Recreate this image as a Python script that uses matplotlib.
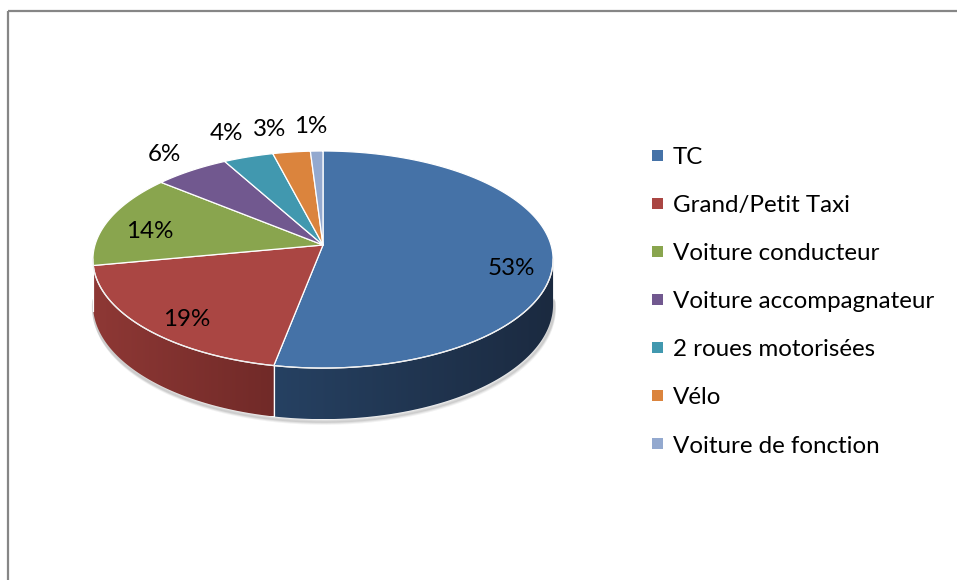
import numpy as np
import matplotlib
matplotlib.use("Agg")
import matplotlib.pyplot as plt
from matplotlib.patches import Polygon, Rectangle

# ---- data ----
categories = ["TC", "Grand/Petit Taxi", "Voiture conducteur", "Voiture accompagnateur",
              "2 roues motorisées", "Vélo", "Voiture de fonction"]
values = [53, 19, 14, 6, 4, 3, 1]
labels = ["53%", "19%", "14%", "6%", "4%", "3%", "1%"]

# ---- style ----
colors = ["#4572A7", "#AA4643", "#89A54E", "#71588F", "#4198AF", "#DB843D", "#93A9CF"]
wall_left = [(38, 65, 98), (142, 56, 53), (118, 140, 66), (95, 74, 120), (55, 128, 146), (185, 110, 50), (125, 142, 175)]
wall_right = [(27, 42, 64), (113, 42, 40), (100, 120, 56), (80, 62, 100), (45, 108, 124), (160, 95, 42), (105, 120, 150)]
label_r = [0.83, 0.83, 0.79, 1.26, 1.34, 1.33, 1.34]
label_dtheta = [8.5, -3.5, -3.2, 1.0, 0.0, -3.0, -1.0]
FONT = "Lato"
FS = 17.4

W, H = 957, 580
fig = plt.figure(figsize=(W / 100, H / 100), dpi=100)
ax = fig.add_axes([0, 0, 1, 1])
ax.set_xlim(0, W)
ax.set_ylim(H, 0)
ax.axis("off")

# chart border (top and left visible)
ax.plot([8, 8], [H + 5, 11], color="#868686", lw=1.6, solid_capstyle="butt")
ax.plot([8, W + 5], [11, 11], color="#868686", lw=1.6, solid_capstyle="butt")

# projection parameters of the 3D pie
cx, cy = 323.0, 245.0
k, a, p, h = 228.0, 106.6, 0.134, 44.2


def proj(X, Y, z=0.0):
    d = 1 + p * Y
    return cx + k * X / d, cy - a * Y / d - h * z / d


def arc(t0, t1, z=0.0, r=1.0, n=200):
    th = np.linspace(t0, t1, n)
    X, Y = r * np.sin(th), r * np.cos(th)
    return np.column_stack(proj(X, Y, z))


total = float(sum(values))
fr = np.array(values) / total
cum = np.concatenate([[0], np.cumsum(fr)])
theta0 = cum[:-1] * 2 * np.pi
theta1 = cum[1:] * 2 * np.pi

vis0 = np.deg2rad(97.5)
vis1 = np.deg2rad(262.5)

# soft shadow under the pie
for off, al in [(4, 0.10), (3, 0.15), (2, 0.2)]:
    bot = arc(vis0 - 0.05, vis1 + 0.05, z=-1)
    ax.plot(bot[:, 0] + off * 0.3, bot[:, 1] + off, color="#808080", lw=2.5, alpha=al,
            solid_capstyle="round", zorder=1)

# walls
for i in range(len(values)):
    t0 = max(theta0[i], vis0)
    t1 = min(theta1[i], vis1)
    if t1 <= t0:
        continue
    top = arc(t0, t1, 0)
    bot = arc(t0, t1, -1)
    poly = np.vstack([top, bot[::-1]])
    patch = Polygon(poly, closed=True, facecolor="none", edgecolor="none", zorder=2)
    ax.add_patch(patch)
    x0, x1 = poly[:, 0].min(), poly[:, 0].max()
    y0, y1 = poly[:, 1].min(), poly[:, 1].max()
    n = 256
    tt = np.linspace(0, 1, n)
    cl = np.array(wall_left[i]) / 255.0
    cr = np.array(wall_right[i]) / 255.0
    grad = (cl[None, :] * (1 - tt[:, None]) + cr[None, :] * tt[:, None])[None, :, :]
    im = ax.imshow(grad, extent=[x0, x1, y1, y0], aspect="auto", zorder=2, interpolation="bilinear")
    im.set_clip_path(patch)
    for t in (theta0[i], theta1[i]):
        if vis0 < t < vis1:
            xa, ya = proj(np.sin(t), np.cos(t), 0)
            xb, yb = proj(np.sin(t), np.cos(t), -1)
            ax.plot([xa, xb], [ya, yb], color="white", lw=0.8, zorder=3)

# top faces
hub = proj(0.0, 0.0, 0)
for i in range(len(values)):
    pts = np.vstack([[hub], arc(theta0[i], theta1[i], 0)])
    ax.add_patch(Polygon(pts, closed=True, facecolor=colors[i], edgecolor="white",
                         lw=0.9, joinstyle="round", zorder=4))

# front edge highlight
fe = arc(vis0, vis1, 0)
ax.plot(fe[:, 0], fe[:, 1], color="#f0f0f0", lw=0.9, zorder=5)

# data labels
cap = FS * 100 / 72 * 0.7165
for i, lab in enumerate(labels):
    mid = 0.5 * (theta0[i] + theta1[i]) + np.deg2rad(label_dtheta[i])
    r = label_r[i]
    x, y = proj(r * np.sin(mid), r * np.cos(mid), 0)
    ax.text(x, y + cap / 2, lab, ha="center", va="baseline", fontsize=FS,
            family=FONT, color="black", zorder=6)

# legend
leg_x, leg_y0, leg_dy = 652, 155.3, 48.1
sq = 11
for i, cat in enumerate(categories):
    yc = leg_y0 + i * leg_dy
    ax.add_patch(Rectangle((leg_x, yc - sq / 2), sq, sq, facecolor=colors[i],
                           edgecolor="none", zorder=6))
    ax.text(leg_x + 21, yc + cap / 2, cat, ha="left", va="baseline", fontsize=FS,
            family=FONT, color="black", zorder=6)

fig.savefig("out.png", dpi=100)
